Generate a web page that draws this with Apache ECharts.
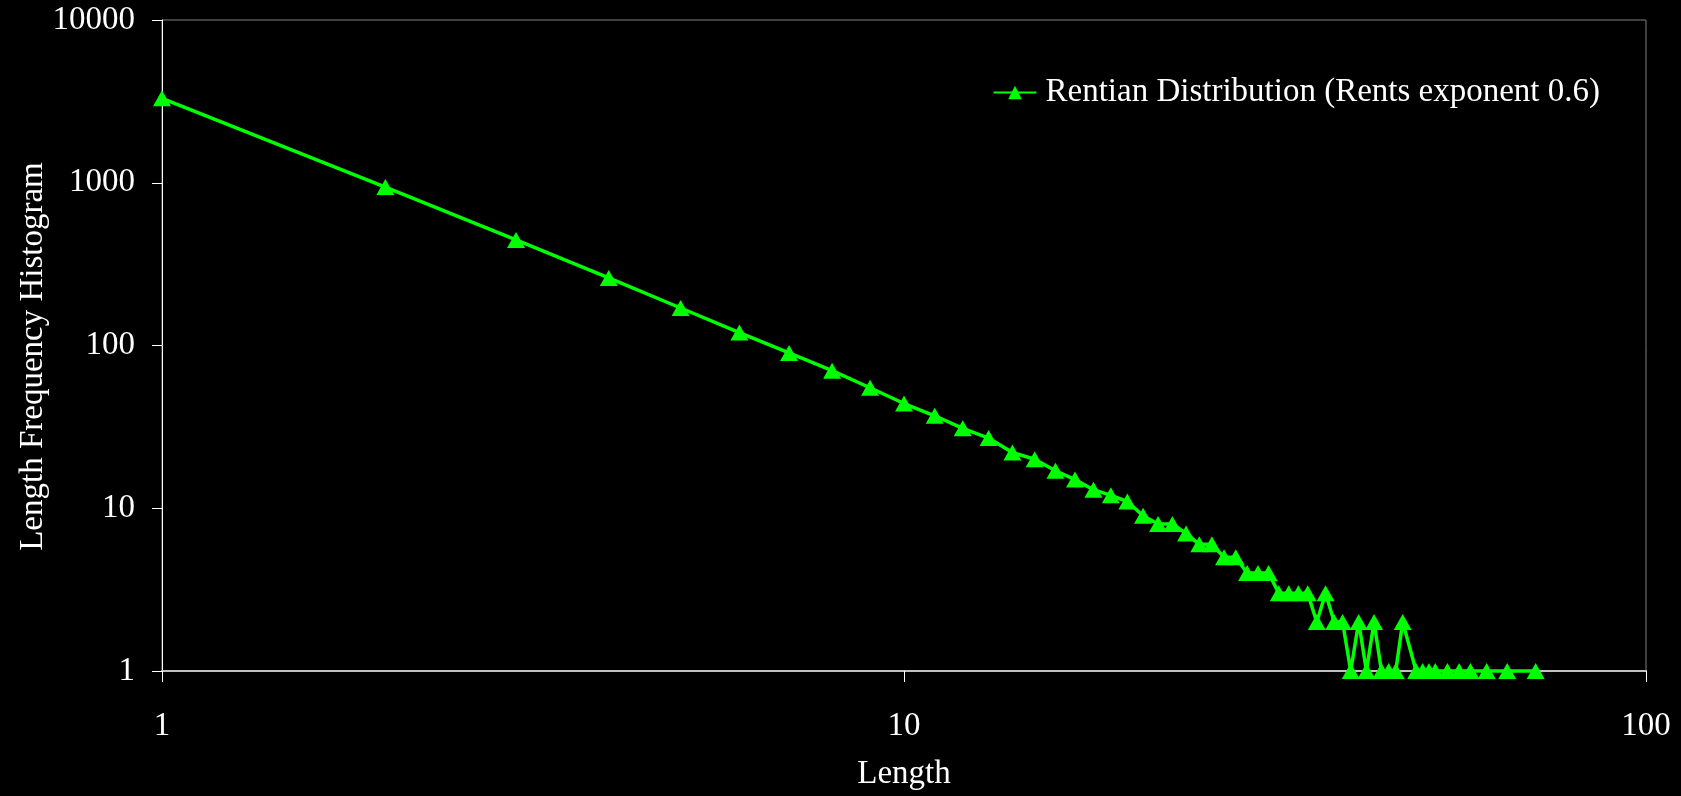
<!DOCTYPE html>
<html>
<head>
<meta charset="utf-8">
<script src="https://cdn.jsdelivr.net/npm/echarts@6/dist/echarts.min.js"></script>
<style>
html,body{margin:0;padding:0;background:#000;}
#chart{width:1681px;height:796px;}
</style>
</head>
<body>
<div id="chart"></div>
<script>
// Data
var lengths = [1,2,3,4,5,6,7,8,9,10,11,12,13,14,15,16,17,18,19,20,21,22,23,24,25,26,27,28,29,30,31,32,33,34,35,36,37,38,39,40,41,42,43,44,45,46,47,49,50,51,52,54,56,58,61,65,71];
var counts  = [3300,940,445,260,170,120,90,70,55,44,37,31,27,22,20,17,15,13,12,11,9,8,8,7,6,6,5,5,4,4,4,3,3,3,3,2,3,2,2,1,2,1,2,1,1,1,2,1,1,1,1,1,1,1,1,1,1];
var seriesName = 'Rentian Distribution (Rents exponent 0.6)';
var xTitle = 'Length';
var yTitle = 'Length Frequency Histogram';

var points = lengths.map(function(l,i){ return [l, counts[i]]; });
var font = '"Liberation Serif", "Times New Roman", serif';

var chart = echarts.init(document.getElementById('chart'));
chart.setOption({
  backgroundColor: '#000',
  animation: false,
  grid: {left:162, right:35, top:20, bottom:123, show:true, borderColor:'#808080', borderWidth:1, backgroundColor:'transparent'},
  legend: {
    data:[seriesName], right:76, top:71, itemWidth:43, itemHeight:17, itemGap:8,
    textStyle:{color:'#fff', fontFamily:font, fontSize:33, padding:[0,0,0,4]}
  },
  xAxis: {
    type:'log', logBase:10, min:1, max:100,
    name:xTitle, nameLocation:'middle', nameGap:87, nameMoveOverlap:false,
    nameTextStyle:{color:'#fff', fontFamily:font, fontSize:33},
    axisLine:{show:true, lineStyle:{color:'#c0c0c0', width:2}},
    axisTick:{show:true, inside:false, length:11, lineStyle:{color:'#fff', width:1}},
    minorTick:{show:false},
    splitLine:{show:false},
    axisLabel:{color:'#fff', fontFamily:font, fontSize:33, margin:39, formatter:function(v){return String(Math.round(v));}}
  },
  yAxis: {
    type:'log', logBase:10, min:1, max:10000,
    name:yTitle, nameLocation:'middle', nameGap:112, nameRotate:90, nameMoveOverlap:false,
    nameTextStyle:{color:'#fff', fontFamily:font, fontSize:33, padding:[0,22,0,0]},
    axisLine:{show:true, lineStyle:{color:'#fff', width:1}},
    axisTick:{show:true, inside:false, length:10, lineStyle:{color:'#fff', width:1}},
    minorTick:{show:false},
    splitLine:{show:false},
    axisLabel:{color:'#fff', fontFamily:font, fontSize:33, margin:27, formatter:function(v){return String(Math.round(v));}}
  },
  series: [{
    name:seriesName, type:'line', data:points,
    symbol:'triangle', symbolSize:[18,16], showAllSymbol:true,
    lineStyle:{color:'#00ff00', width:3.5},
    itemStyle:{color:'#00ff00'},
    clip:false
  }]
});
</script>
</body>
</html>
